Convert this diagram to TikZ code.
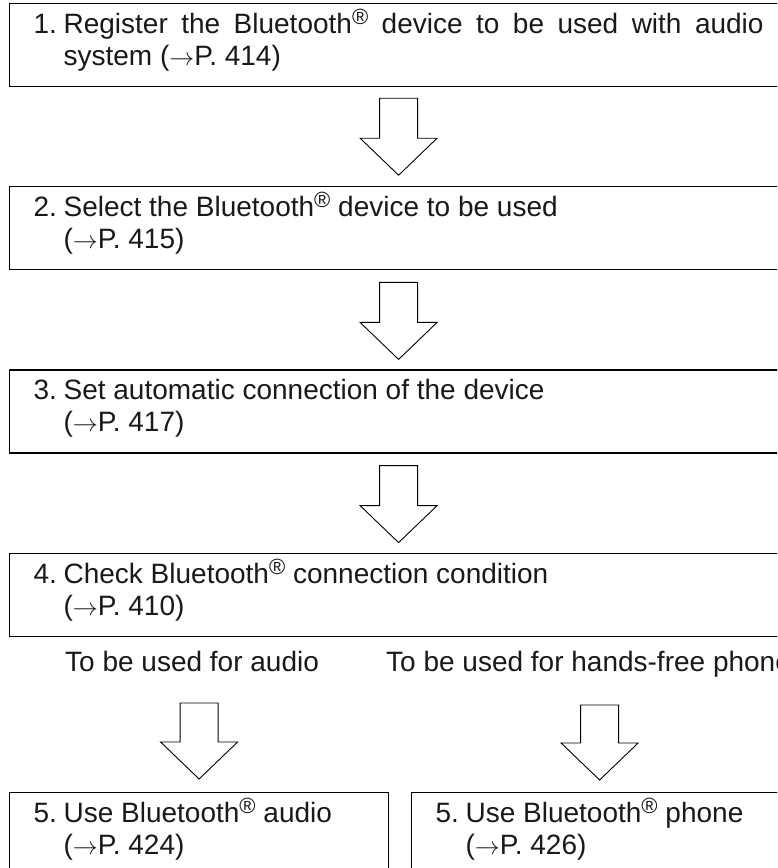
\documentclass[tikz,border=0pt]{standalone}
\usepackage{fontspec}
\setmainfont{Liberation Sans}
\usetikzlibrary{positioning,calc}

\newcommand{\flowstep}[2]{\hyphenpenalty=10000\tolerance=9999\hangindent=30pt\hangafter=1\makebox[30pt][l]{#1.}#2\par}
\newcommand{\regmark}{\smash{\raisebox{9pt}{\fontsize{22}{22}\selectfont ®}}}
\newcommand{\seepage}[1]{($\rightarrow$P.~#1)\rule[-11.5pt]{0pt}{11.5pt}}

\begin{document}
\begin{tikzpicture}[x=1pt,y=-1pt,node distance=99pt,
  font=\fontsize{28}{32}\selectfont,text=black!90,
  stepbox/.style={draw,line width=1.2pt,inner xsep=24pt,inner ysep=0pt,minimum height=83pt,text width=730pt,align=justify,anchor=north west},
  blockarrow/.style={line width=0.9pt,to path={let \p1=(\tikztostart),\p2=(\tikztotarget) in
    (\x1-19pt,\y1) -- (\x1+19pt,\y1) -- (\x1+19pt,\y2+37pt) -- (\x1+38.5pt,\y2+37pt)
    -- (\x2,\y2) -- (\x1-38.5pt,\y2+37pt) -- (\x1-19pt,\y2+37pt) -- cycle}}]
\useasboundingbox (0,0) rectangle (777,868);
\clip (0,0) rectangle (777,868);
% main steps
\node[stepbox] (register) at (9,3) {\flowstep{1}{Register the Bluetooth\regmark{} device to be used with audio system \seepage{414}}};
\node[stepbox,below=99pt of register] (select) {\flowstep{2}{Select the Bluetooth\regmark{} device to be used\newline\seepage{415}}};
\node[stepbox,below=99pt of select] (autoconn) {\flowstep{3}{Set automatic connection of the device\newline\seepage{417}}};
\node[stepbox,below=99pt of autoconn] (check) {\flowstep{4}{Check Bluetooth\regmark{} connection condition\newline\seepage{410}}};
% branches
\node[anchor=base west,inner sep=0pt] (audiolbl) at (65,671) {To be used for audio};
\node[anchor=base west,inner sep=0pt] (phonelbl) at (386,671) {To be used for hands-free phone};
\node[stepbox,text width=331pt] (useaudio) at (9,792) {\flowstep{5}{Use Bluetooth\regmark{} audio\newline\seepage{424}}};
\node[stepbox,text width=328pt] (usephone) at (411,792) {\flowstep{5}{Use Bluetooth\regmark{} phone\newline\seepage{426}}};
\coordinate (audiotop) at ($(useaudio.north)+(0,-89)$);
\coordinate (phonetop) at ($(usephone.north)+(0,-87)$);
% arrows
\draw[blockarrow] ($(register.south)+(0,11)$) to ($(select.north)+(0,-11)$);
\draw[blockarrow] ($(select.south)+(0,12)$) to ($(autoconn.north)+(0,-10)$);
\draw[blockarrow] ($(autoconn.south)+(0,12)$) to ($(check.north)+(0,-10)$);
\draw[blockarrow] (audiotop) to ($(useaudio.north)+(0,-13)$);
\draw[blockarrow] (phonetop) to ($(usephone.north)+(0,-12)$);
\end{tikzpicture}
\end{document}
